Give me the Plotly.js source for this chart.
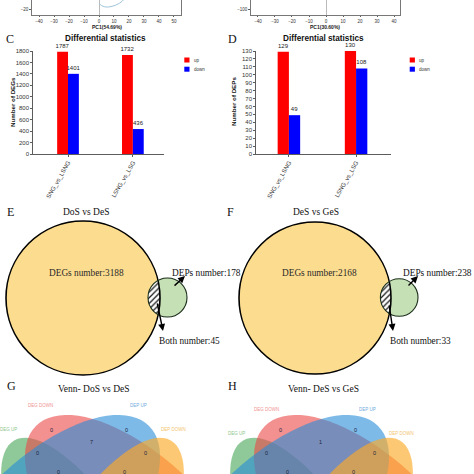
<!DOCTYPE html>
<html><head><meta charset="utf-8">
<script src="https://cdn.plot.ly/plotly-3.0.1.min.js"></script>
<style>html,body{margin:0;padding:0;background:#fff}</style>
</head><body><div id="chart" style="width:474px;height:474px"></div>
<script>
// ---------------- data ----------------
const comparisons = ['SNG_vs_LSNG', 'LSNG_vs_LSG'];
const seriesNames = ['up', 'down'];
const degUp = [1787, 1732];
const degDown = [1401, 436];
const depUp = [129, 130];
const depDown = [49, 108];
const barTitle = 'Differential statistics';
const barYTitles = ['Number of DEGs', 'Number of DEPs'];

const pcaLeftXTicks = [-40, -30, -20, -10, 0, 10, 20, 30, 40, 50];
const pcaRightXTicks = [-40, -30, -20, -10, 0, 10, 20, 30, 40];
const pcaLeftYTicks = [-20];
const pcaRightYTicks = [-100];
const pcaTitles = ['PC1(54.69%)', 'PC1(30.60%)'];

const vennTitles = ['DoS vs DeS', 'DeS vs GeS'];
const vennDEGs = [3188, 2168];
const vennDEPs = [178, 238];
const vennBoth = [45, 33];

const quadTitles = ['Venn- DoS vs DeS', 'Venn- DeS vs GeS'];
const quadSetNames = ['DEG UP', 'DEG DOWN', 'DEP UP', 'DEP DOWN'];
// regions: DEG DOWN only, DEP UP only, DEG DOWN∩DEP UP, DEG UP∩DEG DOWN, DEP UP∩DEP DOWN, DEG UP∩DEG DOWN∩DEP UP, DEG DOWN∩DEP UP∩DEP DOWN
const quadCountsG = [0, 0, 7, 0, 0, 0, 0];
const quadCountsH = [0, 0, 1, 0, 0, 0, 0];
const panelLetters = ['C', 'D', 'E', 'F', 'G', 'H'];

// ---------------- style / layout helpers ----------------
const W = 474;
const FS = 'Liberation Serif, Times New Roman, serif';
const FA = 'Liberation Sans, Arial, sans-serif';
const upColor = '#FF0000', downColor = '#0000FF';

function ann(text, x, y, size, opts) {
  return Object.assign({text: text, x: x, y: y, xref: 'x5', yref: 'y5', showarrow: false,
    font: {family: FS, size: size, color: '#111'}, xanchor: 'center', yanchor: 'middle'}, opts || {});
}
function ellipsePath(cx, cy, a, b, deg) {
  const t = deg * Math.PI / 180; let d = '';
  for (let i = 0; i <= 90; i++) {
    const s = i / 90 * 2 * Math.PI, u = a * Math.cos(s), v = b * Math.sin(s);
    const x = cx + u * Math.cos(t) - v * Math.sin(t), y = cy + u * Math.sin(t) + v * Math.cos(t);
    d += (i ? 'L' : 'M') + x.toFixed(2) + ',' + y.toFixed(2);
  }
  return d + 'Z';
}
function lens(c1x, cy, r1, c2x, r2) {
  const d = c2x - c1x, xi = (d * d + r1 * r1 - r2 * r2) / (2 * d), h = Math.sqrt(r1 * r1 - xi * xi);
  const a1 = Math.atan2(h, xi), a2 = Math.atan2(h, d - xi);
  const xs = [], ys = [];
  for (let i = 0; i <= 30; i++) { const t = -a1 + 2 * a1 * i / 30; xs.push(c1x + r1 * Math.cos(t)); ys.push(cy + r1 * Math.sin(t)); }
  for (let i = 0; i <= 30; i++) { const t = Math.PI - a2 + 2 * a2 * i / 30; xs.push(c2x + r2 * Math.cos(t)); ys.push(cy + r2 * Math.sin(t)); }
  return {x: xs, y: ys};
}

// ---------------- traces ----------------
const barText = {family: FA, size: 6, color: '#222'};
function barTrace(name, vals, color, xa, ya) {
  return {type: 'bar', name: name, x: comparisons, y: vals, text: vals.map(String), textposition: 'outside',
    textfont: barText, constraintext: 'none', cliponaxis: false, marker: {color: color, line: {width: 0}},
    xaxis: xa, yaxis: ya, hoverinfo: 'x+y'};
}
const traces = [
  {type: 'scatter', mode: 'markers', x: [], y: [], xaxis: 'x', yaxis: 'y'},
  {type: 'scatter', mode: 'markers', x: [], y: [], xaxis: 'x2', yaxis: 'y2'},
  barTrace(seriesNames[0], degUp, upColor, 'x3', 'y3'),
  barTrace(seriesNames[1], degDown, downColor, 'x3', 'y3'),
  barTrace(seriesNames[0], depUp, upColor, 'x4', 'y4'),
  barTrace(seriesNames[1], depDown, downColor, 'x4', 'y4')
];

// two-circle Venn geometry (panels E, F)
const bigC = [{x: 83, y: 298, r: 77}, {x: 315, y: 298, r: 76}];
const smallC = [{x: 167.5, y: 297.5, r: 19.5}, {x: 399.2, y: 297.5, r: 18.8}];
const shapes = [];
const annotations = [];
for (let k = 0; k < 2; k++) {
  const B = bigC[k], S = smallC[k];
  shapes.push({type: 'circle', xref: 'x5', yref: 'y5', x0: B.x - B.r, x1: B.x + B.r, y0: B.y - B.r, y1: B.y + B.r,
    fillcolor: '#FCDC8E', line: {width: 0}, layer: 'below'});
  shapes.push({type: 'circle', xref: 'x5', yref: 'y5', x0: S.x - S.r, x1: S.x + S.r, y0: S.y - S.r, y1: S.y + S.r,
    fillcolor: '#C6E0B5', line: {width: 0}, layer: 'below'});
  const L = lens(B.x, B.y, B.r, S.x, S.r);
  traces.push({type: 'scatter', mode: 'lines', x: L.x, y: L.y, fill: 'toself', fillcolor: '#fff',
    fillpattern: {shape: '/', fgcolor: '#111', bgcolor: '#fff', size: 4, solidity: 0.3},
    line: {width: 0}, xaxis: 'x5', yaxis: 'y5', hoverinfo: 'skip'});
}
const outlineShapes = [];
for (let k = 0; k < 2; k++) {
  const B = bigC[k], S = smallC[k];
  outlineShapes.push({type: 'circle', xref: 'x5', yref: 'y5', x0: B.x - B.r, x1: B.x + B.r, y0: B.y - B.r, y1: B.y + B.r,
    line: {color: '#000', width: 1.6}, layer: 'above'});
  outlineShapes.push({type: 'circle', xref: 'x5', yref: 'y5', x0: S.x - S.r, x1: S.x + S.r, y0: S.y - S.r, y1: S.y + S.r,
    line: {color: '#1b2e1b', width: 1.1}, layer: 'above'});
}

// four-ellipse Venn (panels G, H)
const quadCenters = [92.5, 321.5];
const quadFills = ['rgba(70,165,85,0.6)', 'rgba(235,70,70,0.6)', 'rgba(40,140,215,0.6)', 'rgba(252,170,40,0.65)'];
const quadLabelColors = ['#8cc68c', '#ef9393', '#72aadc', '#f4c36e'];
const quadGeom = [ // dx, cy, a, b, angle
  [1.7, 579, 160, 55, 60], [49.5, 532, 150, 70, 45], [-49.5, 532, 150, 70, -45], [-1.7, 579, 160, 55, -60]];
const quadRegionPos = [[-41.5, 430], [33.5, 430], [-1, 442], [-55, 453], [52.5, 453], [-34, 472], [31.5, 472]];
const quadLabelPos = [[[-84.5, 429], [-52, 405], [45.5, 405], [80.5, 429]], [[-85.5, 433], [-55, 409], [46, 409], [80, 433]]];
const quadCounts = [quadCountsG, quadCountsH];
for (let k = 0; k < 2; k++) {
  const Xc = quadCenters[k];
  quadGeom.forEach((g, i) => {
    shapes.push({type: 'path', xref: 'x5', yref: 'y5', path: ellipsePath(Xc + g[0], g[1], g[2], g[3], g[4]),
      fillcolor: quadFills[i], line: {width: 0}, layer: 'above'});
  });
  quadCounts[k].forEach((v, i) => annotations.push(ann(String(v), Xc + quadRegionPos[i][0], quadRegionPos[i][1], 5.5,
    {font: {family: FA, size: 5.5, color: '#1c2540'}})));
  quadSetNames.forEach((n, i) => annotations.push(ann(n, Xc + quadLabelPos[k][i][0], quadLabelPos[k][i][1], 4.5,
    {font: {family: FA, size: 4.5, color: quadLabelColors[i]}})));
  annotations.push(ann(quadTitles[k], Xc + 1.5, 389, 9.5));
}
shapes.push(...outlineShapes);

// E/F texts + arrows
const degTextX = [86, 319];
const depTextX = [170, 401];
const bothTextX = [157, 388];
const depArrow = [[173, 287, 185, 276], [407, 287, 418, 276]];
const bothArrow = [[157, 302, 163, 331], [389, 304, 393, 331]];
for (let k = 0; k < 2; k++) {
  annotations.push(ann('DEGs number:' + vennDEGs[k], degTextX[k], 272.5, 9.3, {font: {family: FS, size: 9.3, color: '#2a2a2a'}}));
  annotations.push(ann('DEPs number:' + vennDEPs[k], depTextX[k], 272.5, 9.3, {xanchor: 'left'}));
  annotations.push(ann('Both number:' + vennBoth[k], bothTextX[k], 341, 9.3, {xanchor: 'left'}));
  annotations.push(ann(vennTitles[k], k ? 316 : 86, 212, 9.5));
  [depArrow[k], bothArrow[k]].forEach(a => annotations.push({text: '', xref: 'x5', yref: 'y5', axref: 'x5', ayref: 'y5',
    x: a[2], y: a[3], ax: a[0], ay: a[1], showarrow: true, arrowhead: 2, arrowsize: 1, arrowwidth: 1.4, arrowcolor: '#000', standoff: 0}));
}

// panel letters
[[10, 39], [232, 39], [10, 212], [230, 212], [11, 386], [232, 386]].forEach((p, i) =>
  annotations.push(ann(panelLetters[i], p[0], p[1], 12)));

// bar titles, y titles, custom legends
[[105, 38], [323, 38]].forEach(p => annotations.push(ann('<b>' + barTitle + '</b>', p[0], p[1], 8.2,
  {font: {family: FA, size: 8.2, color: '#111'}})));
[[12, 102], [233, 102]].forEach((p, i) => annotations.push(ann('<b>' + barYTitles[i] + '</b>', p[0], p[1], 6.2,
  {font: {family: FA, size: 6.2, color: '#111'}, textangle: -90})));
[[184.3, 191.5], [409.7, 417]].forEach(p => {
  [[57.5, upColor, seriesNames[0]], [66.7, downColor, seriesNames[1]]].forEach(r => {
    shapes.push({type: 'rect', xref: 'x5', yref: 'y5', x0: p[0], x1: p[0] + 5.2, y0: r[0], y1: r[0] + 5,
      fillcolor: r[1], line: {width: 0}});
    annotations.push(ann(r[2], p[1], r[0] + 2.5, 4.5, {xanchor: 'left', font: {family: FA, size: 4.5, color: '#333'}}));
  });
});

// PCA titles
[[107, 26.5], [325, 26.5]].forEach((p, i) => annotations.push(ann('<b>' + pcaTitles[i] + '</b>', p[0], p[1], 5,
  {font: {family: FA, size: 5, color: '#222'}})));
// PCA confidence-ellipse arc (left panel, data coordinates, clipped to plot)
shapes.push({type: 'path', xref: 'x', yref: 'y', path: 'M0,-14.5 Q3.3,-19.8 8.7,-17.3 Q14,-15.5 17.5,-9',
  line: {color: '#9ec5dc', width: 1}});

// ---------------- layout ----------------
const tickF = s => ({family: FA, size: s, color: '#333'});
const baseAx = {showgrid: false, zeroline: false, showline: true, linecolor: '#333', linewidth: 0.8,
  ticks: 'outside', ticklen: 2, tickwidth: 0.8, tickcolor: '#333', fixedrange: true};
const layout = {
  width: W, height: W, margin: {l: 0, r: 0, t: 0, b: 0}, paper_bgcolor: '#fff', plot_bgcolor: 'rgba(0,0,0,0)',
  showlegend: false, barmode: 'group', bargap: 0.665, bargroupgap: 0,
  xaxis: Object.assign({}, baseAx, {domain: [32 / W, 181 / W], range: [-44.7, 54.7], tickvals: pcaLeftXTicks,
    tickfont: tickF(4.5), ticklen: 1.5, zeroline: true, zerolinecolor: '#aaa', zerolinewidth: 0.8, linecolor: '#555', anchor: 'y'}),
  yaxis: Object.assign({}, baseAx, {domain: [1 - 15 / W, 1], range: [-26, -11], tickvals: pcaLeftYTicks,
    tickfont: tickF(4.5), mirror: true, linecolor: '#555', anchor: 'x'}),
  xaxis2: Object.assign({}, baseAx, {domain: [251 / W, 400 / W], range: [-44.1, 43.5], tickvals: pcaRightXTicks,
    tickfont: tickF(4.5), ticklen: 1.5, zeroline: true, zerolinecolor: '#aaa', zerolinewidth: 0.8, linecolor: '#555', anchor: 'y2'}),
  yaxis2: Object.assign({}, baseAx, {domain: [1 - 15 / W, 1], range: [-130, -55], tickvals: pcaRightYTicks,
    tickfont: tickF(4.5), mirror: true, linecolor: '#555', anchor: 'x2'}),
  xaxis3: Object.assign({}, baseAx, {domain: [33 / W, 164 / W], type: 'category', range: [-0.54, 1.48],
    tickangle: -60, tickfont: tickF(6), anchor: 'y3'}),
  yaxis3: Object.assign({}, baseAx, {domain: [1 - 154 / W, 1 - 51 / W], range: [0, 1800], tickmode: 'linear',
    tick0: 0, dtick: 200, tickfont: tickF(6), anchor: 'x3'}),
  xaxis4: Object.assign({}, baseAx, {domain: [256 / W, 391 / W], type: 'category', range: [-0.49, 1.52],
    tickangle: -60, tickfont: tickF(6), anchor: 'y4'}),
  yaxis4: Object.assign({}, baseAx, {domain: [1 - 154 / W, 1 - 51 / W], range: [0, 130], tickmode: 'linear',
    tick0: 0, dtick: 10, tickfont: tickF(6), anchor: 'x4'}),
  xaxis5: {domain: [0, 1], range: [0, W], visible: false, anchor: 'y5', fixedrange: true},
  yaxis5: {domain: [0, 1], range: [W, 0], visible: false, anchor: 'x5', fixedrange: true},
  shapes: shapes,
  annotations: annotations
};
Plotly.newPlot('chart', traces, layout, {displayModeBar: false, staticPlot: true});
</script></body></html>
